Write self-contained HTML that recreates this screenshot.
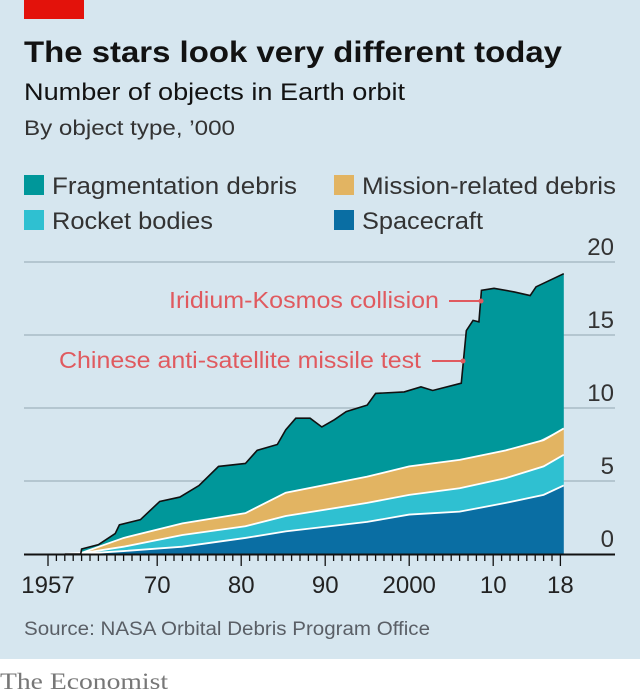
<!DOCTYPE html>
<html><head><meta charset="utf-8"><style>
html,body{margin:0;padding:0;background:#fff}
svg{display:block}
text{font-family:"Liberation Sans",sans-serif}
</style></head><body>
<svg id="chart" width="640" height="697" viewBox="0 0 640 697" xmlns="http://www.w3.org/2000/svg">
<rect x="0" y="0" width="640" height="659" fill="#d6e6ef"/>
<rect x="24" y="0" width="60" height="19" fill="#e3120b"/>
<text x="24" y="62" font-size="30" font-weight="bold" fill="#121212" textLength="538" lengthAdjust="spacingAndGlyphs">The stars look very different today</text>
<text x="24" y="100" font-size="24" fill="#121212" textLength="381" lengthAdjust="spacingAndGlyphs">Number of objects in Earth orbit</text>
<text x="24" y="135" font-size="21" fill="#333" textLength="211" lengthAdjust="spacingAndGlyphs">By object type, ’000</text>
<g>
<rect x="24" y="175" width="20" height="20" fill="#00979a"/>
<text x="52" y="194" font-size="24" fill="#333" textLength="245" lengthAdjust="spacingAndGlyphs">Fragmentation debris</text>
<rect x="334" y="175" width="20" height="20" fill="#e2b462"/>
<text x="362" y="194" font-size="24" fill="#333" textLength="254" lengthAdjust="spacingAndGlyphs">Mission-related debris</text>
<rect x="24" y="210" width="20" height="20" fill="#2fc0d1"/>
<text x="52" y="229" font-size="24" fill="#333" textLength="161" lengthAdjust="spacingAndGlyphs">Rocket bodies</text>
<rect x="334" y="210" width="20" height="20" fill="#0a6ea3"/>
<text x="362" y="229" font-size="24" fill="#333" textLength="121" lengthAdjust="spacingAndGlyphs">Spacecraft</text>
</g>
<g id="grid"></g>
<g id="areas"></g>
<g id="axes"></g>
<g>
<text x="169" y="308" font-size="23" fill="#e05a5f" textLength="270" lengthAdjust="spacingAndGlyphs">Iridium-Kosmos collision</text>
<line x1="449" y1="301" x2="481" y2="301" stroke="#e05a5f" stroke-width="2"/>
<circle cx="481" cy="301" r="2.5" fill="#e05a5f"/>
<text x="59" y="368" font-size="23" fill="#e05a5f" textLength="362" lengthAdjust="spacingAndGlyphs">Chinese anti-satellite missile test</text>
<line x1="432" y1="361" x2="463" y2="361" stroke="#e05a5f" stroke-width="2"/>
<circle cx="463" cy="361" r="2.5" fill="#e05a5f"/>
</g>
<text x="24" y="635" font-size="19" fill="#5a5f66" textLength="406" lengthAdjust="spacingAndGlyphs">Source: NASA Orbital Debris Program Office</text>
<text x="0" y="689" font-size="23" fill="#777" font-family="Liberation Serif, serif" style="font-family:'Liberation Serif',serif" textLength="168" lengthAdjust="spacingAndGlyphs">The Economist</text>
</svg>
<script>
// data ('000 objects)
const layerYears = [1959, 1961, 1966, 1973, 1980.5, 1985.3, 1995, 2000, 2006, 2011.5, 2016, 2018.4];
const spacecraft = [0, 0.02, 0.2, 0.5, 1.1, 1.55, 2.2, 2.7, 2.9, 3.5, 4.05, 4.7];
const rocketBodies = [0, 0.03, 0.3, 0.8, 0.8, 1.05, 1.3, 1.35, 1.6, 1.7, 1.95, 2.1];
const missionDebris = [0, 0.03, 0.6, 0.8, 0.9, 1.6, 1.8, 1.95, 1.95, 1.9, 1.8, 1.8];
const totalYears = [1959, 1960.9, 1961, 1963, 1965, 1965.5, 1968, 1970.3, 1972.7, 1975, 1977.3, 1980.5, 1981.9, 1984.3, 1985.3, 1986.5, 1988.2, 1989.6, 1991.1, 1992.5, 1995, 1996, 1999.4, 2001.4, 2002.8, 2006.2, 2006.8, 2007.6, 2008.3, 2008.6, 2010.1, 2012.5, 2014.4, 2015.1, 2018.4];
const totalObjects = [0, 0, 0.34, 0.64, 1.4, 2.0, 2.35, 3.6, 3.9, 4.7, 6.0, 6.2, 7.1, 7.5, 8.5, 9.3, 9.3, 8.7, 9.2, 9.75, 10.2, 11.0, 11.1, 11.45, 11.2, 11.7, 15.3, 16.0, 15.9, 18.06, 18.2, 17.95, 17.7, 18.3, 19.2];
const yTicks = [0, 5, 10, 15, 20];
const xTickLabels = ["1957", "70", "80", "90", "2000", "10", "18"];
const xTickYears = [1957, 1970, 1980, 1990, 2000, 2010, 2018];

const NS = "http://www.w3.org/2000/svg";
const x = yr => 48 + (yr - 1957) * 8.4;
const y = v => 554 - v * 14.6;
function interp(xs, ys, t) {
  if (t <= xs[0]) return ys[0];
  for (let i = 1; i < xs.length; i++) if (t <= xs[i]) {
    const f = (t - xs[i-1]) / (xs[i] - xs[i-1]); return ys[i-1] + f * (ys[i] - ys[i-1]);
  }
  return ys[ys.length-1];
}
function mk(tag, attrs, parent) {
  const e = document.createElementNS(NS, tag);
  for (const k in attrs) e.setAttribute(k, attrs[k]);
  parent.appendChild(e); return e;
}
const grid = document.getElementById('grid');
const areas = document.getElementById('areas');
const axes = document.getElementById('axes');
yTicks.forEach(v => {
  if (v > 0) {
    const l = mk('line', {x1: 24, x2: 615, y1: y(v), y2: y(v), stroke: '#a9bbc6', 'stroke-width': 1.5}, grid);
    
    
  }
  const t = mk('text', {x: 614, y: y(v) - 7, 'font-size': 24, fill: '#333', 'text-anchor': 'end'}, grid);
  t.textContent = v;
  
  
});
const c1 = layerYears.map((yr, i) => spacecraft[i]);
const c2 = layerYears.map((yr, i) => c1[i] + rocketBodies[i]);
const c3 = layerYears.map((yr, i) => c2[i] + missionDebris[i]);
function areaPath(topX, topY, botX, botY) {
  let d = 'M' + topX.map((t, i) => x(t).toFixed(1) + ',' + y(topY[i]).toFixed(1)).join('L');
  for (let i = botX.length - 1; i >= 0; i--) d += 'L' + x(botX[i]).toFixed(1) + ',' + y(botY[i]).toFixed(1);
  return d + 'Z';
}
const zeros = layerYears.map(() => 0);
const missTopAtTotal = totalYears.map(t => Math.min(interp(layerYears, c3, t), interp(totalYears, totalObjects, t)));
const layers = [
  ['area-fragmentation-debris', '#00979a', totalYears, totalObjects, totalYears, missTopAtTotal],
  ['area-mission-related-debris', '#e2b462', layerYears, c3, layerYears, c2],
  ['area-rocket-bodies', '#2fc0d1', layerYears, c2, layerYears, c1],
  ['area-spacecraft', '#0a6ea3', layerYears, c1, layerYears, zeros]
];
layers.forEach(L => {
  const p = mk('path', {d: areaPath(L[2], L[3], L[4], L[5]), fill: L[1]}, areas);
  
  
});
[c1, c2, c3].forEach((c, k) => {
  const p = mk('polyline', {points: layerYears.map((t, i) => x(t) + ',' + y(c[i])).join(' '), fill: 'none', stroke: '#fff', 'stroke-width': 1.8}, areas);
  
  
});
const tl = mk('polyline', {points: totalYears.map((t, i) => x(t) + ',' + y(totalObjects[i])).join(' '), fill: 'none', stroke: '#111', 'stroke-width': 1.6}, areas);


const ax = mk('line', {x1: 24, x2: 615, y1: 554.5, y2: 554.5, stroke: '#111', 'stroke-width': 2}, axes);


for (let yr = 1957; yr <= 2018; yr++) {
  const major = xTickYears.indexOf(yr) >= 0;
  const t = mk('line', {x1: x(yr), x2: x(yr), y1: 555, y2: major ? 566 : 561, stroke: '#111', 'stroke-width': 1.3}, axes);
  
  
}
xTickYears.forEach((yr, i) => {
  const t = mk('text', {x: x(yr), y: 593, 'font-size': 24, fill: '#222', 'text-anchor': 'middle'}, axes);
  t.textContent = xTickLabels[i];
  
  
});
</script>
</body></html>
